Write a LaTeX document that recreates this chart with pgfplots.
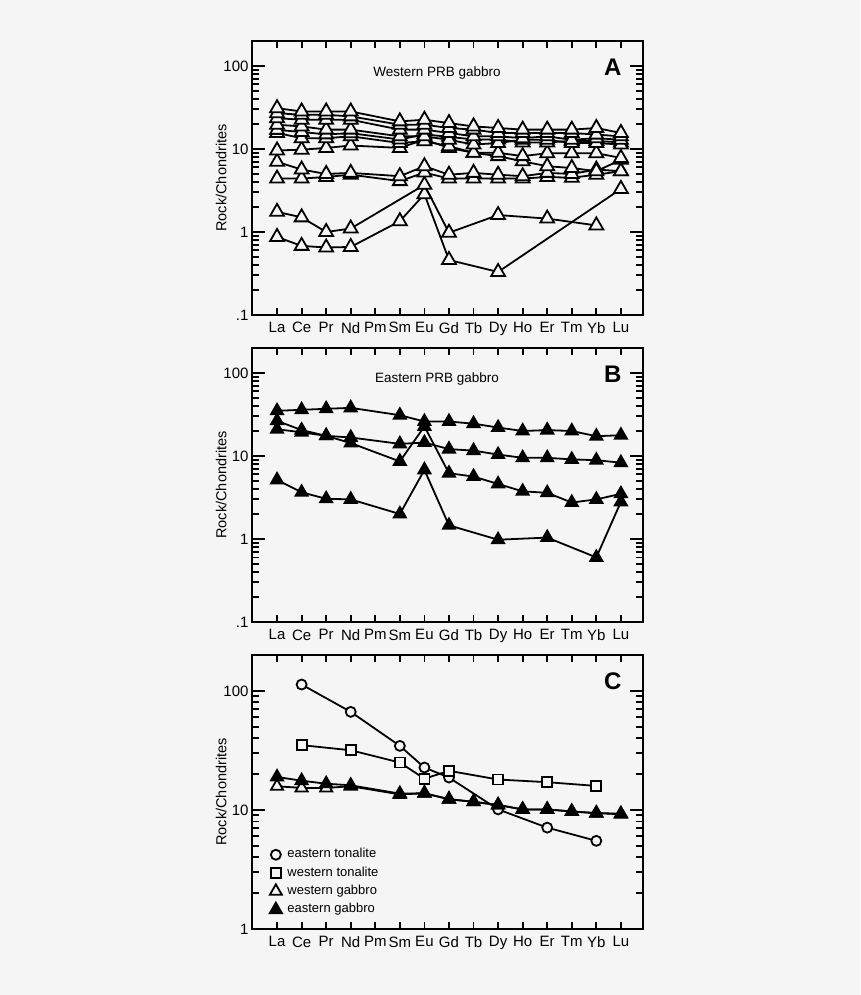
\documentclass[border=0pt]{standalone}
\usepackage{pgfplots}
\pgfplotsset{compat=1.18}
\usepackage{fontspec}
\setmainfont{Liberation Sans}
\definecolor{bg}{HTML}{F5F5F5}
\pgfplotsset{
  every axis/.append style={
    scale only axis, width=391pt, height=274pt,
    xmin=-1.02, xmax=14.9, ymax=200,
    xtick={0,...,14},
    xticklabels={La,Ce,Pr,Nd,Pm,Sm,Eu,Gd,Tb,Dy,Ho,Er,Tm,Yb,Lu},
    tick align=inside,
    axis line style={line width=2.6pt, line cap=rect},
    major tick length=13pt, minor tick length=7pt,
    every tick/.style={black, line width=1.8pt},
    xtick style={/pgfplots/major tick length=7pt},
    tick label style={font=\fontsize{15}{18}\selectfont},
    xticklabel style={yshift=-4pt},
    every axis y label/.style={at={(axis description cs:-0.079,0.5)},rotate=90,anchor=center,font=\fontsize{14.5}{17}\selectfont},
    ylabel={Rock/Chondrites},
  },
  every axis plot/.append style={black, line width=1.8pt, mark options={solid, line width=1.5pt}},
  ot/.style={mark=triangle*, mark size=8pt, mark options={fill=bg}},
  ft/.style={mark=triangle*, mark size=7pt, mark options={fill=black}},
}
\begin{document}
\begin{tikzpicture}
\fill[bg] (0,0) rectangle (860pt,995pt);
\path[use as bounding box] (0,0) rectangle (860pt,995pt);
% ---------------- A
\begin{semilogyaxis}[at={(252pt,680pt)}, anchor=south west, ymin=0.1,
  ytick={0.1,1,10,100}, yticklabels={.1,1,10,100},
  minor ytick={0.2,0.3,0.4,0.5,0.6,0.7,0.8,0.9,2,3,4,5,6,7,8,9,20,30,40,50,60,70,80,90}]
\addplot[ot] table {
0 0.87
1 0.68
2 0.65
3 0.66
5 1.35
6 2.85
7 0.46
9 0.33
14 3.3
};
\addplot[ot] table {
0 1.75
1 1.5
2 1.0
3 1.1
6 3.7
7 0.98
9 1.6
11 1.45
13 1.2
};
\addplot[ot] table {
0 4.4
1 4.4
2 4.6
3 4.9
5 4.1
6 5.2
7 4.4
8 4.4
9 4.4
10 4.4
11 4.6
12 4.5
13 4.9
14 5.4
};
\addplot[ot] table {
0 7
1 5.65
2 5
3 5.15
5 4.7
6 6.2
7 4.9
8 5.15
9 4.9
10 4.7
11 5.15
12 5
13 5.65
14 5.4
};
\addplot[ot] table {
0 9.6
1 9.8
2 10.3
3 11
5 10.3
6 13
7 10.3
8 9
9 8.2
10 7.1
11 6.2
12 5.9
13 5.4
14 7.4
};
\addplot[ot] table {
0 15.6
1 13.5
2 13.5
3 14.2
5 11.8
6 12.4
7 10.8
8 9
9 9
10 8.2
11 8.9
12 8.9
13 8.9
14 7.8
};
\addplot[ot] table {
0 17
1 16
2 15
3 15.5
5 13
6 15
7 14
8 13
9 13
10 12
11 12
12 12.5
13 12.5
14 12
};
\addplot[ot] table {
0 19.6
1 18.7
2 17.1
3 17.1
5 14.2
6 14.2
7 12.9
8 11.3
9 11.8
10 12.9
11 12.9
12 11.8
13 11.8
14 11.3
};
\addplot[ot] table {
0 23.5
1 22.5
2 22.5
3 22.5
5 17.1
6 17.1
7 15.6
8 14.2
9 14.2
10 13.5
11 14.2
12 12.9
13 13.5
14 12.9
};
\addplot[ot] table {
0 27
1 25.8
2 25.8
3 24.7
5 19.6
6 19.6
7 17.9
8 17.1
9 15.6
10 15.6
11 15.6
12 15.6
13 14.9
14 14.2
};
\addplot[ot] table {
0 31
1 28.3
2 28.3
3 28.3
5 21.5
6 22.5
7 20.5
8 18.7
9 17.9
10 17.1
11 17.1
12 17.1
13 17.9
14 15.6
};
\node[font=\fontsize{13.5}{16}\selectfont] at (rel axis cs:0.473,0.884) {Western PRB gabbro};
\node[font=\bfseries\fontsize{24}{28}\selectfont] at (rel axis cs:0.923,0.905) {A};
\end{semilogyaxis}
% ---------------- B
\begin{semilogyaxis}[at={(252pt,373pt)}, anchor=south west, ymin=0.1,
  ytick={0.1,1,10,100}, yticklabels={.1,1,10,100},
  minor ytick={0.2,0.3,0.4,0.5,0.6,0.7,0.8,0.9,2,3,4,5,6,7,8,9,20,30,40,50,60,70,80,90}]
\addplot[ft] table {
0 35
1 36
2 37
3 38
5 31
6 26
7 26
8 24.5
9 22
10 20
11 20.5
12 20
13 17.3
14 17.8
};
\addplot[ft] table {
0 21
1 19.3
2 17.5
3 16.7
5 14
6 14.5
7 12.1
8 11.6
9 10.4
10 9.5
11 9.5
12 9.1
13 8.9
14 8.3
};
\addplot[ft] table {
0 26.5
1 20.5
2 17.5
3 14.3
5 8.6
6 22.7
7 6.2
8 5.65
9 4.6
10 3.75
11 3.6
12 2.75
13 3.0
14 3.5
};
\addplot[ft] table {
0 5.15
1 3.65
2 3.05
3 3.0
5 2.0
6 6.8
7 1.46
9 0.98
11 1.04
13 0.6
14 2.8
};
\node[font=\fontsize{13.5}{16}\selectfont] at (rel axis cs:0.473,0.887) {Eastern PRB gabbro};
\node[font=\bfseries\fontsize{24}{28}\selectfont] at (rel axis cs:0.923,0.905) {B};
\end{semilogyaxis}
% ---------------- C
\begin{semilogyaxis}[at={(252pt,66pt)}, anchor=south west, ymin=1,
  ytick={1,10,100}, yticklabels={1,10,100},
  minor ytick={2,3,4,5,6,7,8,9,20,30,40,50,60,70,80,90},
  legend cell align=left,
  legend image code/.code={\draw[#1] plot coordinates {(0pt,0pt)};},
  legend style={at={(rel axis cs:0.045,0.30)}, anchor=north west, draw=none, fill=none,
    font=\fontsize{13}{15}\selectfont, row sep=2.8pt, inner sep=0pt,
    nodes={inner sep=2pt, text height=9pt, text depth=2.5pt},
    /tikz/every odd column/.append style={column sep=3.5pt}},
  ]
\addplot[mark=*, mark size=5pt, mark options={fill=bg}] table {
1 113
3 66.6
5 34.5
6 22.7
7 18.7
9 10.1
11 7.1
13 5.5
};
\addlegendentry{eastern tonalite}
\addplot[mark=square*, mark size=5pt, mark options={fill=bg}] table {
1 35
3 31.7
5 25
6 18.3
7 21.3
9 18
11 17.1
13 15.9
};
\addlegendentry{western tonalite}
\addplot[mark=triangle*, mark size=7pt, mark options={fill=bg}] table {
0 15.8
1 15.3
2 15.3
3 15.8
5 13.5
6 13.8
7 12.3
8 11.7
9 11
10 10.1
11 10.1
12 9.7
13 9.4
14 9.2
};
\addlegendentry{western gabbro}
\addplot[mark=triangle*, mark size=7pt, mark options={fill=black}] table {
0 18.9
1 17.6
2 16.6
3 16.1
5 13.7
6 13.8
7 12.3
8 11.7
9 11
10 10.1
11 10.1
12 9.7
13 9.4
14 9.3
};
\addlegendentry{eastern gabbro}
\node[font=\bfseries\fontsize{24}{28}\selectfont] at (rel axis cs:0.923,0.905) {C};
\end{semilogyaxis}
\end{tikzpicture}
\end{document}
